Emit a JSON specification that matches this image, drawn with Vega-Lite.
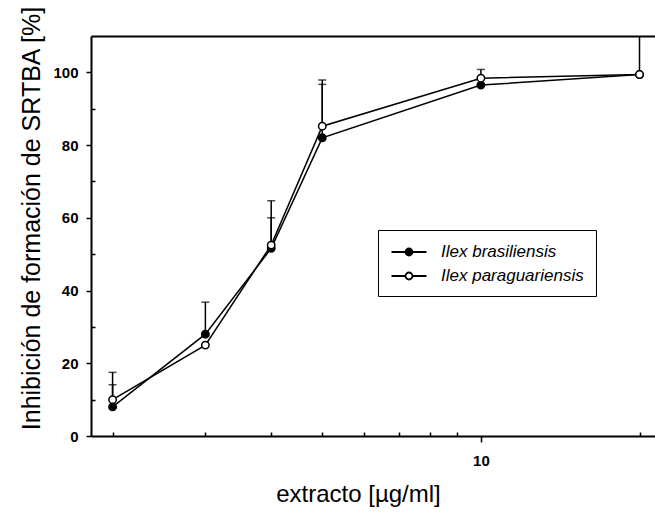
{
  "$schema": "https://vega.github.io/schema/vega-lite/v6.json",
  "autosize": "none",
  "padding": {"left": 91, "top": 36, "right": 0, "bottom": 77},
  "width": 564,
  "height": 400,
  "background": "white",
  "config": {
    "view": {"stroke": null},
    "font": "Liberation Sans",
    "axis": {"grid": false, "domainColor": "black", "domainWidth": 2, "tickColor": "black", "tickWidth": 1.5, "labelColor": "black", "titleColor": "black", "labelFont": "Liberation Sans", "titleFont": "Liberation Sans"}
  },
  "data": {"values": [
    {"series": "Ilex brasiliensis", "x": 2, "y": 8, "upper": 14.1},
    {"series": "Ilex brasiliensis", "x": 3, "y": 28, "upper": 36.8},
    {"series": "Ilex brasiliensis", "x": 4, "y": 51.6, "upper": 60},
    {"series": "Ilex brasiliensis", "x": 5, "y": 82, "upper": 96.7},
    {"series": "Ilex brasiliensis", "x": 10, "y": 96.5, "upper": null},
    {"series": "Ilex brasiliensis", "x": 20, "y": 99.4, "upper": 112},
    {"series": "Ilex paraguariensis", "x": 2, "y": 10, "upper": 17.5},
    {"series": "Ilex paraguariensis", "x": 3, "y": 25, "upper": null},
    {"series": "Ilex paraguariensis", "x": 4, "y": 52.5, "upper": 64.7},
    {"series": "Ilex paraguariensis", "x": 5, "y": 85.2, "upper": 97.9},
    {"series": "Ilex paraguariensis", "x": 10, "y": 98.4, "upper": 100.8},
    {"series": "Ilex paraguariensis", "x": 20, "y": 99.4, "upper": null}
  ]},
  "resolve": {"axis": {"x": "independent", "y": "independent"}},
  "layer": [
    {
      "mark": {"type": "rule", "color": "black", "strokeWidth": 1.5, "clip": true},
      "transform": [{"filter": "datum.upper != null"}],
      "encoding": {
        "x": {"field": "x", "type": "quantitative", "scale": {"type": "log", "domain": [1.82, 21.4], "nice": false},
          "axis": {"orient": "bottom", "values": [10], "tickSize": 6, "labelFontSize": 15, "labelFontWeight": "bold", "labelPadding": 11,
            "title": "extracto [µg/ml]", "titleFontSize": 24, "titleFontWeight": "normal", "titlePadding": 14, "titleX": 267}},
        "y": {"field": "y", "type": "quantitative", "scale": {"domain": [0, 110], "nice": false},
          "axis": {"values": [0,20,40,60,80,100], "tickSize": 5, "labelFontSize": 15, "labelFontWeight": "bold", "labelPadding": 8,
            "title": "Inhibición de formación de SRTBA [%]", "titleFontSize": 25, "titleFontWeight": "normal", "titlePadding": 8, "titleY": 182}},
        "y2": {"field": "upper"}
      }
    },
    {
      "mark": {"type": "tick", "color": "black", "orient": "horizontal", "size": 8, "thickness": 1.5, "clip": true},
      "transform": [{"filter": "datum.upper != null"}],
      "encoding": {
        "x": {"field": "x", "type": "quantitative", "axis": {"orient": "top", "ticks": false, "labels": false, "title": null, "domainWidth": 2}},
        "y": {"field": "upper", "type": "quantitative", "axis": {"orient": "left", "values": [10,30,50,70,90], "tickSize": -4, "labels": false, "domain": false, "title": null}}
      }
    },
    {
      "mark": {"type": "line", "color": "black", "strokeWidth": 1.5},
      "encoding": {
        "x": {"field": "x", "type": "quantitative", "axis": {"orient": "bottom", "values": [2,3,4,5,6,7,8,9,20], "tickSize": -4, "labels": false, "domain": false, "title": null}},
        "y": {"field": "y", "type": "quantitative", "axis": null},
        "detail": {"field": "series"},
        "order": {"field": "x"}
      }
    },
    {
      "mark": {"type": "point", "shape": "circle", "size": 55, "stroke": "black", "strokeWidth": 1.5, "opacity": 1, "filled": false},
      "encoding": {
        "x": {"field": "x", "type": "quantitative", "axis": null},
        "y": {"field": "y", "type": "quantitative", "axis": null},
        "fill": {"field": "series", "type": "nominal",
          "scale": {"domain": ["Ilex brasiliensis", "Ilex paraguariensis"], "range": ["black", "white"]},
          "legend": {"title": null, "orient": "none", "legendX": 287, "legendY": 194,
            "symbolType": "M-2,0H-0.4M0.4,0H2M0.4,0A0.4,0.4 0 1,1 -0.4,0A0.4,0.4 0 1,1 0.4,0Z",
            "symbolSize": 306, "symbolStrokeColor": "black", "symbolStrokeWidth": 1.8, "symbolOpacity": 1, "symbolOffset": 9,
            "labelFont": "Liberation Sans", "labelFontSize": 17, "labelFontStyle": "italic", "labelFontWeight": "normal", "labelColor": "black", "labelOffset": 22,
            "rowPadding": 6, "strokeColor": "black", "fillColor": "white", "padding": 12}
        },
        "order": {"field": "series"}
      }
    }
  ]
}
